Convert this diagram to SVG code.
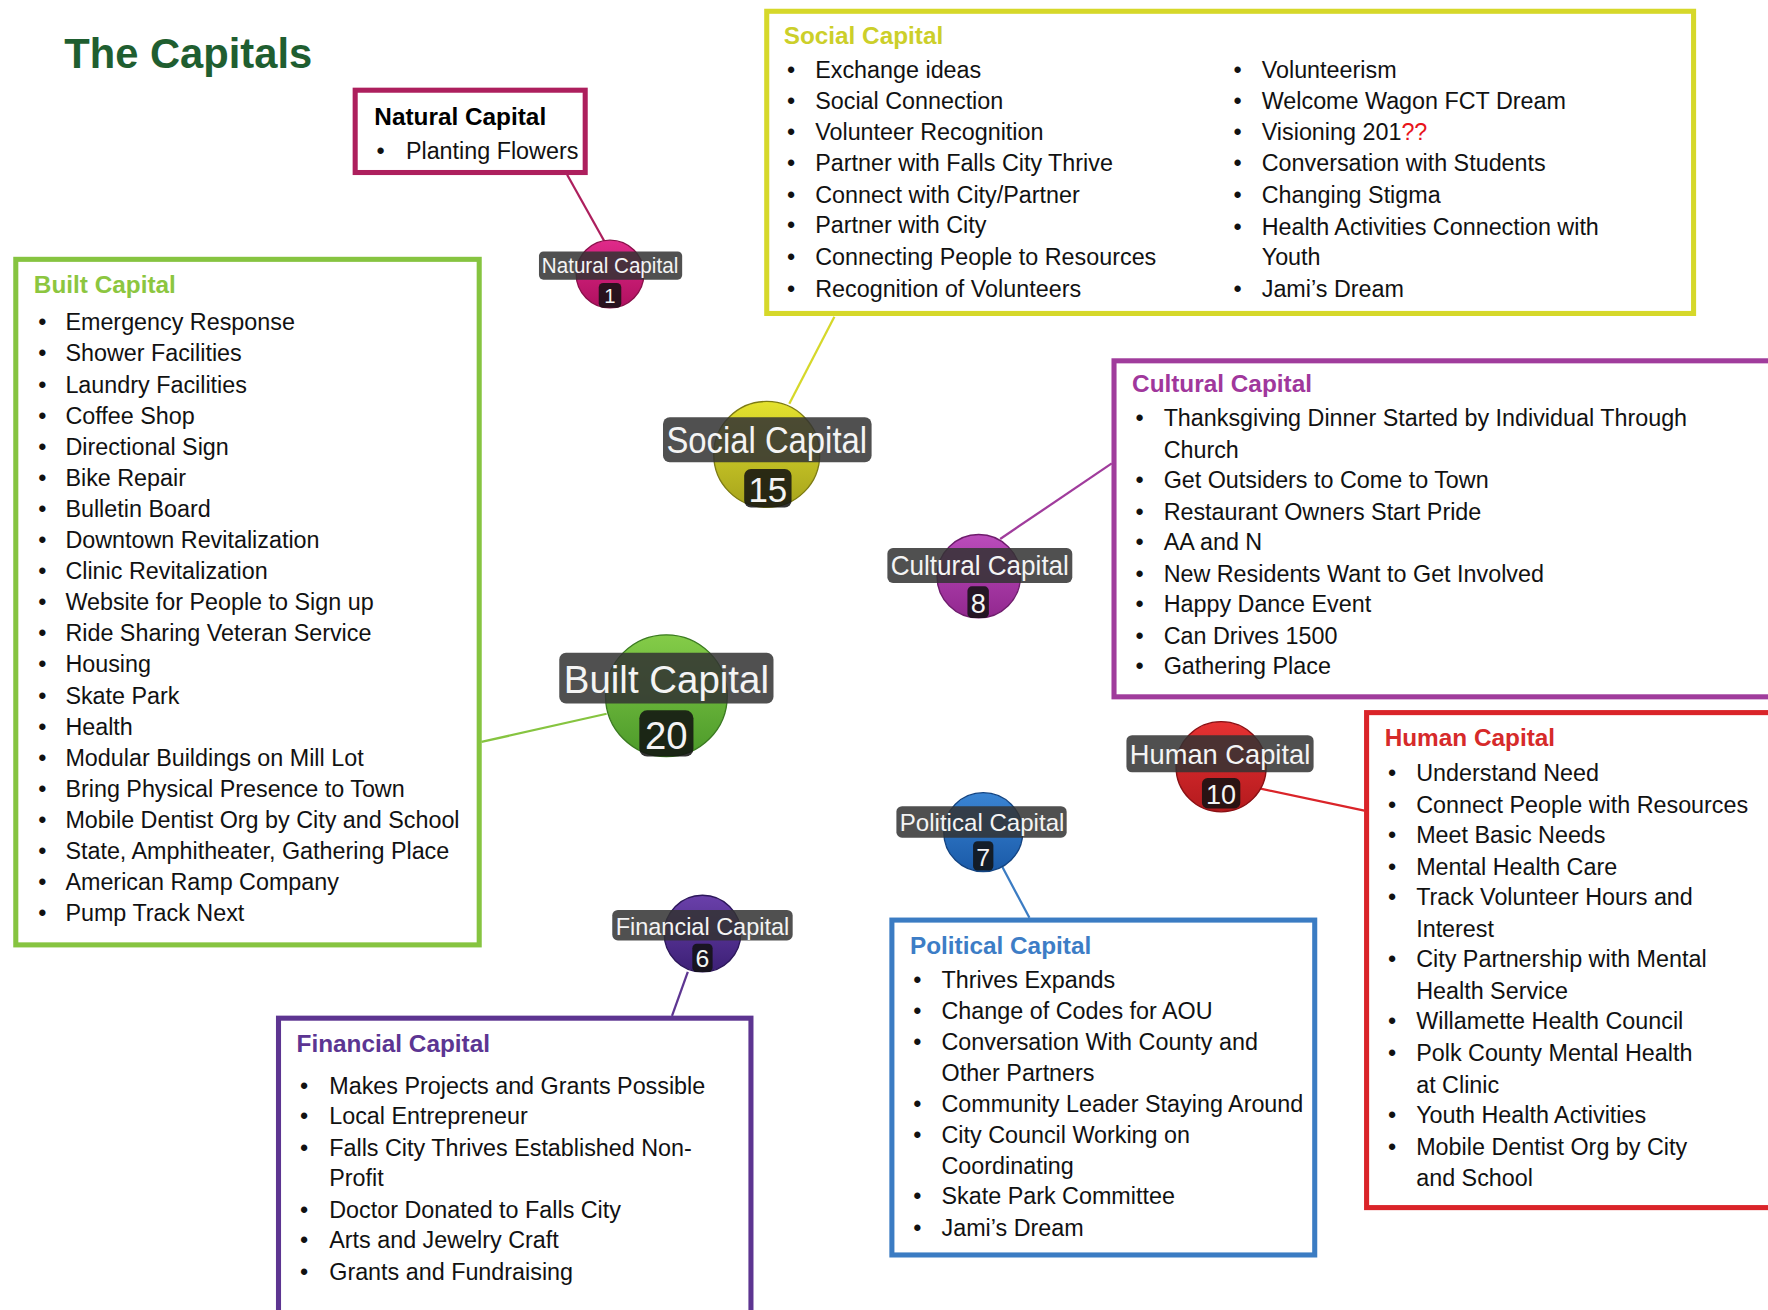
<svg xmlns="http://www.w3.org/2000/svg" width="1768" height="1310" viewBox="0 0 1768 1310">
<style>
.t{font-family:"Liberation Sans",Arial,sans-serif;font-size:20.7px;fill:#111}
.h{font-family:"Liberation Sans",Arial,sans-serif;font-size:21.6px;font-weight:bold}
.box{fill:#fff;stroke-width:4.5}
.con{fill:none;stroke-width:2}
.lab{fill:#333;fill-opacity:.86}
.num{fill:#111;fill-opacity:.86}
.nl{font-family:"Liberation Sans",Arial,sans-serif;fill:#f4f4f4;text-anchor:middle}
.ring{stroke-width:1.2}
</style>
<defs>
<linearGradient id="gN" x1="0" y1="0" x2="0" y2="1"><stop offset="0" stop-color="#e02a8a"/><stop offset="1" stop-color="#b0105f"/></linearGradient>
<linearGradient id="gS" x1="0" y1="0" x2="0" y2="1"><stop offset="0" stop-color="#e4e22e"/><stop offset="1" stop-color="#a6a31c"/></linearGradient>
<linearGradient id="gB" x1="0" y1="0" x2="0" y2="1"><stop offset="0" stop-color="#84cc48"/><stop offset="1" stop-color="#4c9a2a"/></linearGradient>
<linearGradient id="gC" x1="0" y1="0" x2="0" y2="1"><stop offset="0" stop-color="#bb4cbb"/><stop offset="1" stop-color="#92288f"/></linearGradient>
<linearGradient id="gH" x1="0" y1="0" x2="0" y2="1"><stop offset="0" stop-color="#e63232"/><stop offset="1" stop-color="#b41a1e"/></linearGradient>
<linearGradient id="gP" x1="0" y1="0" x2="0" y2="1"><stop offset="0" stop-color="#3a85d4"/><stop offset="1" stop-color="#1a5aa8"/></linearGradient>
<linearGradient id="gF" x1="0" y1="0" x2="0" y2="1"><stop offset="0" stop-color="#6a40aa"/><stop offset="1" stop-color="#3c2076"/></linearGradient>
</defs>
<rect x="0" y="0" width="1768" height="1310" fill="#fff"/>
<g transform="scale(1.12755)">
<text id="title" x="57" y="60" font-family="Liberation Sans,Arial,sans-serif" font-size="37" font-weight="bold" fill="#1f5e30">The Capitals</text>

<g id="connectors">
<line class="con" stroke="#ad1f5d" x1="503" y1="155" x2="536" y2="214"/>
<line class="con" stroke="#86c440" x1="427" y1="658" x2="538" y2="633"/>
<line class="con" stroke="#d6d82a" x1="740" y1="281" x2="700" y2="358"/>
<line class="con" stroke="#a03c9c" x1="986" y1="411" x2="887" y2="478"/>
<line class="con" stroke="#da2429" x1="1116" y1="699" x2="1210" y2="719"/>
<line class="con" stroke="#3b7cc3" x1="889" y1="769" x2="913" y2="814"/>
<line class="con" stroke="#5d3591" x1="610" y1="862" x2="596" y2="901"/>
</g>

<g id="box-natural">
<rect class="box" stroke="#ad1f5d" x="315" y="80" width="204" height="73"/>
<text class="h" x="332" y="111" fill="#000">Natural Capital</text>
<text class="t" x="334" y="141">•</text><text class="t" x="360" y="141">Planting Flowers</text>
</g>

<g id="box-built">
<rect class="box" stroke="#86c440" x="14" y="230" width="411" height="608"/>
<text class="h" x="30" y="260" fill="#8cc63f">Built Capital</text>
<g class="t">
<text x="34" y="293">•</text><text x="58" y="293">Emergency Response</text>
<text x="34" y="320.6">•</text><text x="58" y="320.6">Shower Facilities</text>
<text x="34" y="348.2">•</text><text x="58" y="348.2">Laundry Facilities</text>
<text x="34" y="375.7">•</text><text x="58" y="375.7">Coffee Shop</text>
<text x="34" y="403.3">•</text><text x="58" y="403.3">Directional Sign</text>
<text x="34" y="430.9">•</text><text x="58" y="430.9">Bike Repair</text>
<text x="34" y="458.5">•</text><text x="58" y="458.5">Bulletin Board</text>
<text x="34" y="486.1">•</text><text x="58" y="486.1">Downtown Revitalization</text>
<text x="34" y="513.6">•</text><text x="58" y="513.6">Clinic Revitalization</text>
<text x="34" y="541.2">•</text><text x="58" y="541.2">Website for People to Sign up</text>
<text x="34" y="568.8">•</text><text x="58" y="568.8">Ride Sharing Veteran Service</text>
<text x="34" y="596.4">•</text><text x="58" y="596.4">Housing</text>
<text x="34" y="624">•</text><text x="58" y="624">Skate Park</text>
<text x="34" y="651.5">•</text><text x="58" y="651.5">Health</text>
<text x="34" y="679.1">•</text><text x="58" y="679.1">Modular Buildings on Mill Lot</text>
<text x="34" y="706.7">•</text><text x="58" y="706.7">Bring Physical Presence to Town</text>
<text x="34" y="734.3">•</text><text x="58" y="734.3">Mobile Dentist Org by City and School</text>
<text x="34" y="761.9">•</text><text x="58" y="761.9">State, Amphitheater, Gathering Place</text>
<text x="34" y="789.4">•</text><text x="58" y="789.4">American Ramp Company</text>
<text x="34" y="817">•</text><text x="58" y="817">Pump Track Next</text>
</g>
</g>

<g id="box-social">
<rect class="box" stroke="#d6d82a" x="680" y="10" width="822" height="268"/>
<text class="h" x="695" y="39" fill="#cccf2a">Social Capital</text>
<g class="t">
<text x="698" y="69">•</text><text x="723" y="69">Exchange ideas</text>
<text x="698" y="97">•</text><text x="723" y="97">Social Connection</text>
<text x="698" y="124">•</text><text x="723" y="124">Volunteer Recognition</text>
<text x="698" y="152">•</text><text x="723" y="152">Partner with Falls City Thrive</text>
<text x="698" y="180">•</text><text x="723" y="180">Connect with City/Partner</text>
<text x="698" y="207">•</text><text x="723" y="207">Partner with City</text>
<text x="698" y="235">•</text><text x="723" y="235">Connecting People to Resources</text>
<text x="698" y="263">•</text><text x="723" y="263">Recognition of Volunteers</text>
<text x="1094" y="69">•</text><text x="1119" y="69">Volunteerism</text>
<text x="1094" y="97">•</text><text x="1119" y="97">Welcome Wagon FCT Dream</text>
<text x="1094" y="124">•</text><text x="1119" y="124">Visioning 201<tspan fill="#e8141b">??</tspan></text>
<text x="1094" y="152">•</text><text x="1119" y="152">Conversation with Students</text>
<text x="1094" y="180">•</text><text x="1119" y="180">Changing Stigma</text>
<text x="1094" y="208">•</text><text x="1119" y="208">Health Activities Connection with</text>
<text x="1119" y="235">Youth</text>
<text x="1094" y="263">•</text><text x="1119" y="263">Jami’s Dream</text>
</g>
</g>

<g id="box-cultural">
<rect class="box" stroke="#a03c9c" x="988" y="320" width="620" height="298"/>
<text class="h" x="1004" y="348" fill="#a0379c">Cultural Capital</text>
<g class="t">
<text x="1007" y="378">•</text><text x="1032" y="378">Thanksgiving Dinner Started by Individual Through</text>
<text x="1032" y="406">Church</text>
<text x="1007" y="433">•</text><text x="1032" y="433">Get Outsiders to Come to Town</text>
<text x="1007" y="461">•</text><text x="1032" y="461">Restaurant Owners Start Pride</text>
<text x="1007" y="488">•</text><text x="1032" y="488">AA and N</text>
<text x="1007" y="516">•</text><text x="1032" y="516">New Residents Want to Get Involved</text>
<text x="1007" y="543">•</text><text x="1032" y="543">Happy Dance Event</text>
<text x="1007" y="571">•</text><text x="1032" y="571">Can Drives 1500</text>
<text x="1007" y="598">•</text><text x="1032" y="598">Gathering Place</text>
</g>
</g>

<g id="box-human">
<rect class="box" stroke="#da2429" x="1212" y="632" width="420" height="439"/>
<text class="h" x="1228" y="662" fill="#d62a2a">Human Capital</text>
<g class="t">
<text x="1231" y="693">•</text><text x="1256" y="693">Understand Need</text>
<text x="1231" y="721">•</text><text x="1256" y="721">Connect People with Resources</text>
<text x="1231" y="748">•</text><text x="1256" y="748">Meet Basic Needs</text>
<text x="1231" y="776">•</text><text x="1256" y="776">Mental Health Care</text>
<text x="1231" y="803">•</text><text x="1256" y="803">Track Volunteer Hours and</text>
<text x="1256" y="831">Interest</text>
<text x="1231" y="858">•</text><text x="1256" y="858">City Partnership with Mental</text>
<text x="1256" y="886">Health Service</text>
<text x="1231" y="913">•</text><text x="1256" y="913">Willamette Health Council</text>
<text x="1231" y="941">•</text><text x="1256" y="941">Polk County Mental Health</text>
<text x="1256" y="969">at Clinic</text>
<text x="1231" y="996">•</text><text x="1256" y="996">Youth Health Activities</text>
<text x="1231" y="1024">•</text><text x="1256" y="1024">Mobile Dentist Org by City</text>
<text x="1256" y="1052">and School</text>
</g>
</g>

<g id="box-political">
<rect class="box" stroke="#3b7cc3" x="791" y="816" width="375" height="297"/>
<text class="h" x="807" y="846" fill="#3d7dc6">Political Capital</text>
<g class="t">
<text x="810" y="876">•</text><text x="835" y="876">Thrives Expands</text>
<text x="810" y="904">•</text><text x="835" y="904">Change of Codes for AOU</text>
<text x="810" y="931">•</text><text x="835" y="931">Conversation With County and</text>
<text x="835" y="959">Other Partners</text>
<text x="810" y="986">•</text><text x="835" y="986">Community Leader Staying Around</text>
<text x="810" y="1014">•</text><text x="835" y="1014">City Council Working on</text>
<text x="835" y="1041">Coordinating</text>
<text x="810" y="1068">•</text><text x="835" y="1068">Skate Park Committee</text>
<text x="810" y="1096">•</text><text x="835" y="1096">Jami’s Dream</text>
</g>
</g>

<g id="box-financial">
<rect class="box" stroke="#5d3591" x="247" y="903" width="419" height="320"/>
<text class="h" x="263" y="933" fill="#5c3592">Financial Capital</text>
<g class="t">
<text x="266" y="970">•</text><text x="292" y="970">Makes Projects and Grants Possible</text>
<text x="266" y="997">•</text><text x="292" y="997">Local Entrepreneur</text>
<text x="266" y="1025">•</text><text x="292" y="1025">Falls City Thrives Established Non-</text>
<text x="292" y="1052">Profit</text>
<text x="266" y="1080">•</text><text x="292" y="1080">Doctor Donated to Falls City</text>
<text x="266" y="1107">•</text><text x="292" y="1107">Arts and Jewelry Craft</text>
<text x="266" y="1135">•</text><text x="292" y="1135">Grants and Fundraising</text>
</g>
</g>

<g id="node-natural">
<circle class="ring" cx="541" cy="243" r="30" fill="url(#gN)" stroke="#8a0f4a"/>
<rect class="lab" x="478" y="223" width="127" height="25" rx="4"/>
<text class="nl" x="541" y="242" font-size="19" textLength="121" lengthAdjust="spacingAndGlyphs">Natural Capital</text>
<rect class="num" x="531" y="251" width="20" height="22" rx="4"/>
<text class="nl" x="541" y="269" font-size="18">1</text>
</g>

<g id="node-social">
<circle class="ring" cx="680" cy="403" r="47" fill="url(#gS)" stroke="#7d7b12"/>
<rect class="lab" x="588" y="370" width="185" height="40" rx="6"/>
<text class="nl" x="680" y="402" font-size="32" textLength="178" lengthAdjust="spacingAndGlyphs">Social Capital</text>
<rect class="num" x="660" y="416" width="42" height="34" rx="6"/>
<text class="nl" x="681" y="445" font-size="31">15</text>
</g>

<g id="node-built">
<circle class="ring" cx="591" cy="617" r="54" fill="url(#gB)" stroke="#3a7a20"/>
<rect class="lab" x="496" y="579" width="190" height="45" rx="6"/>
<text class="nl" x="591" y="615" font-size="35" textLength="182" lengthAdjust="spacingAndGlyphs">Built Capital</text>
<rect class="num" x="567" y="630" width="48" height="41" rx="7"/>
<text class="nl" x="591" y="664" font-size="34">20</text>
</g>

<g id="node-cultural">
<circle class="ring" cx="868" cy="511" r="37" fill="url(#gC)" stroke="#6e1c6c"/>
<rect class="lab" x="787" y="486" width="164" height="31" rx="5"/>
<text class="nl" x="869" y="510" font-size="24" textLength="158" lengthAdjust="spacingAndGlyphs">Cultural Capital</text>
<rect class="num" x="858" y="520" width="19" height="28" rx="4"/>
<text class="nl" x="867.5" y="544" font-size="24">8</text>
</g>

<g id="node-human">
<circle class="ring" cx="1083" cy="680" r="40" fill="url(#gH)" stroke="#8a1014"/>
<rect class="lab" x="999" y="652" width="166" height="33" rx="5"/>
<text class="nl" x="1082" y="678" font-size="25" textLength="160" lengthAdjust="spacingAndGlyphs">Human Capital</text>
<rect class="num" x="1066" y="690" width="34" height="27" rx="5"/>
<text class="nl" x="1083" y="713" font-size="24">10</text>
</g>

<g id="node-political">
<circle class="ring" cx="872" cy="738" r="35" fill="url(#gP)" stroke="#134482"/>
<rect class="lab" x="795" y="715" width="151" height="28" rx="5"/>
<text class="nl" x="871" y="737" font-size="22" textLength="146" lengthAdjust="spacingAndGlyphs">Political Capital</text>
<rect class="num" x="863" y="746" width="18" height="26" rx="4"/>
<text class="nl" x="872" y="768" font-size="22">7</text>
</g>

<g id="node-financial">
<circle class="ring" cx="623" cy="828" r="34" fill="url(#gF)" stroke="#2c175a"/>
<rect class="lab" x="543" y="807" width="160" height="27" rx="5"/>
<text class="nl" x="623" y="829" font-size="22" textLength="154" lengthAdjust="spacingAndGlyphs">Financial Capital</text>
<rect class="num" x="614" y="837" width="18" height="25" rx="4"/>
<text class="nl" x="623" y="858" font-size="22">6</text>
</g>
</g>
</svg>
